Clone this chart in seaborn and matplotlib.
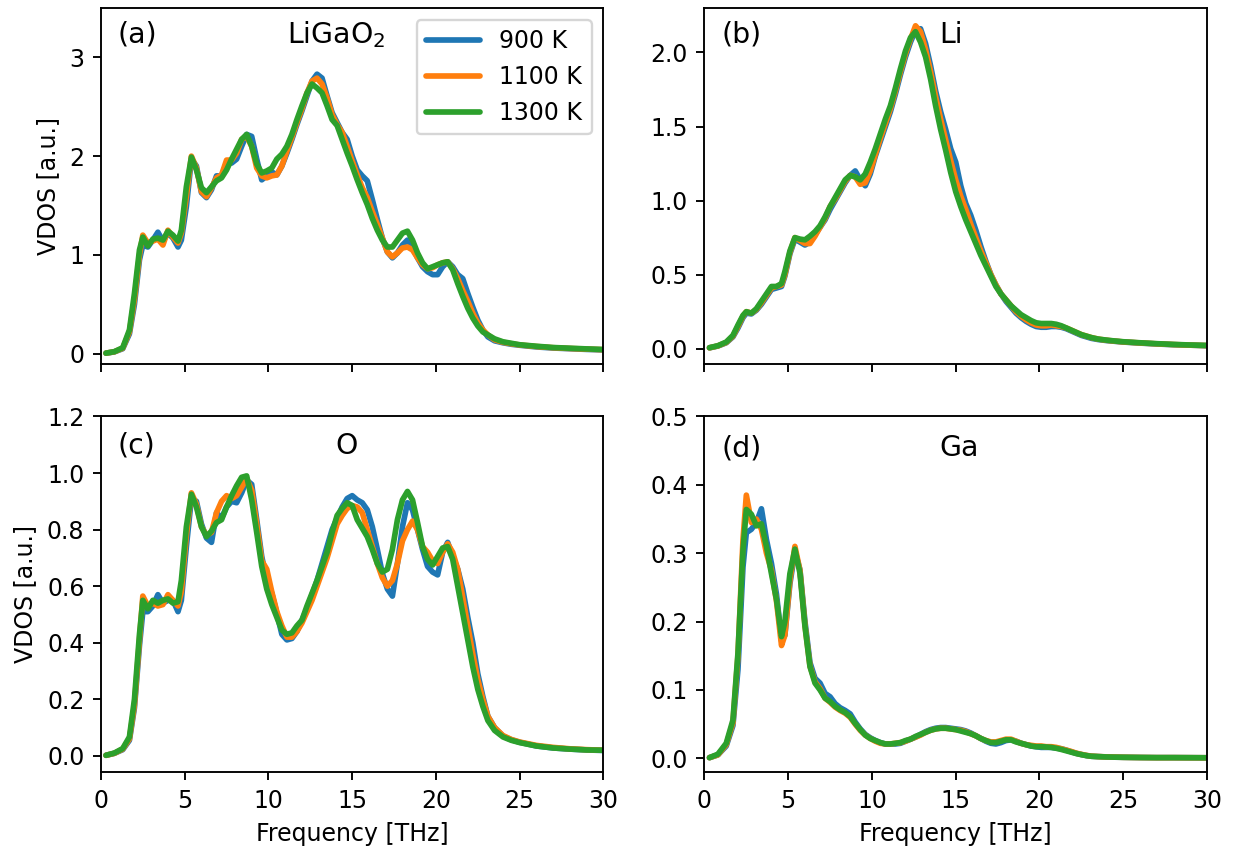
import numpy as np
import pandas as pd
import matplotlib
matplotlib.use("Agg")
import matplotlib.pyplot as plt
import seaborn as sns

# Frequency grid (THz)
FREQ = [0.3, 0.8, 1.3, 1.7, 2.0, 2.3, 2.5, 2.8, 3.1, 3.4, 3.7, 4.0, 4.3, 4.6, 4.8,
        5.1, 5.4, 5.7, 6.0, 6.3, 6.6, 6.9, 7.2, 7.5, 7.8,
        8.1, 8.4, 8.7, 9.0, 9.3, 9.6, 9.9, 10.2, 10.5, 10.8,
        11.1, 11.4, 11.7, 12.0, 12.3, 12.6, 12.9, 13.2, 13.5, 13.8,
        14.1, 14.4, 14.7, 15.0, 15.3, 15.6, 15.9, 16.2, 16.5, 16.8,
        17.1, 17.4, 17.7, 18.0, 18.3, 18.6, 18.9, 19.2, 19.5, 19.8,
        20.1, 20.4, 20.7, 21.0, 21.3, 21.6, 21.9, 22.2, 22.5, 22.8,
        23.1,
        23.5, 24.0, 24.5, 25.0, 26.0, 27.0, 28.0, 29.0, 30.0]

TEMPS = ["900 K", "1100 K", "1300 K"]
COLORS = ["#1f77b4", "#ff7f0e", "#2ca02c"]

# ---- total LiGaO2 ----
TOTAL_900 = [0.005, 0.018, 0.05, 0.20, 0.50, 0.95, 1.10, 1.08, 1.15, 1.23, 1.14, 1.22, 1.17, 1.08, 1.15,
             1.49, 1.97, 1.90, 1.63, 1.58, 1.66, 1.80, 1.80, 1.93, 1.93,
             1.97, 2.10, 2.22, 2.20, 1.97, 1.76, 1.80, 1.84, 1.81, 1.90,
             2.03, 2.17, 2.32, 2.46, 2.61, 2.76, 2.83, 2.79, 2.61, 2.44,
             2.34, 2.24, 2.17, 2.00, 1.86, 1.80, 1.75, 1.56, 1.36, 1.17,
             1.03, 0.97, 1.02, 1.10, 1.15, 1.08, 0.97, 0.88, 0.83, 0.80,
             0.80, 0.88, 0.93, 0.88, 0.80, 0.76, 0.61, 0.47, 0.34, 0.24,
             0.17,
             0.13, 0.11, 0.095, 0.085, 0.068, 0.057, 0.05, 0.043, 0.038]
TOTAL_1100 = [0.005, 0.019, 0.055, 0.22, 0.55, 1.00, 1.20, 1.12, 1.14, 1.16, 1.10, 1.25, 1.18, 1.12, 1.22,
              1.59, 2.00, 1.88, 1.64, 1.59, 1.68, 1.78, 1.81, 1.96, 1.96,
              2.03, 2.17, 2.20, 2.10, 1.88, 1.80, 1.78, 1.80, 1.81, 1.90,
              2.05, 2.19, 2.34, 2.48, 2.64, 2.76, 2.79, 2.73, 2.59, 2.42,
              2.32, 2.24, 2.10, 1.95, 1.81, 1.68, 1.58, 1.44, 1.31, 1.17,
              1.03, 0.98, 1.02, 1.07, 1.08, 1.05, 0.97, 0.90, 0.86, 0.87,
              0.90, 0.92, 0.93, 0.86, 0.76, 0.64, 0.53, 0.41, 0.31, 0.24,
              0.19,
              0.14, 0.115, 0.10, 0.088, 0.072, 0.06, 0.052, 0.046, 0.04]
TOTAL_1300 = [0.005, 0.02, 0.06, 0.24, 0.61, 1.05, 1.18, 1.09, 1.16, 1.17, 1.15, 1.24, 1.20, 1.14, 1.25,
              1.69, 1.99, 1.86, 1.68, 1.63, 1.69, 1.75, 1.78, 1.86, 1.97,
              2.07, 2.17, 2.22, 2.10, 1.92, 1.83, 1.85, 1.88, 1.97, 2.02,
              2.10, 2.22, 2.37, 2.51, 2.64, 2.73, 2.69, 2.64, 2.51, 2.37,
              2.31, 2.17, 2.03, 1.90, 1.76, 1.63, 1.51, 1.37, 1.25, 1.15,
              1.08, 1.08, 1.15, 1.22, 1.24, 1.15, 1.02, 0.92, 0.86, 0.88,
              0.90, 0.92, 0.93, 0.85, 0.71, 0.58, 0.46, 0.36, 0.28, 0.22,
              0.19,
              0.15, 0.12, 0.105, 0.09, 0.075, 0.062, 0.055, 0.048, 0.042]

# ---- Li partial ----
LI_900 = [0.006, 0.018, 0.04, 0.08, 0.14, 0.21, 0.24, 0.235, 0.26, 0.30, 0.35, 0.40, 0.41, 0.42, 0.49,
          0.64, 0.74, 0.72, 0.70, 0.72, 0.77, 0.82, 0.87, 0.94, 1.00,
          1.06, 1.12, 1.17, 1.20, 1.14, 1.10, 1.18, 1.30, 1.40, 1.50,
          1.60, 1.72, 1.85, 1.97, 2.07, 2.15, 2.16, 2.06, 1.91, 1.74,
          1.60, 1.48, 1.35, 1.26, 1.10, 0.98, 0.90, 0.80, 0.69, 0.59,
          0.50, 0.43, 0.37, 0.32, 0.28, 0.24, 0.21, 0.185, 0.165, 0.15,
          0.145, 0.145, 0.15, 0.15, 0.145, 0.135, 0.12, 0.105, 0.09, 0.08,
          0.07,
          0.062, 0.055, 0.05, 0.045, 0.038, 0.032, 0.027, 0.024, 0.02]
LI_1100 = [0.006, 0.019, 0.042, 0.085, 0.15, 0.22, 0.25, 0.24, 0.265, 0.31, 0.36, 0.41, 0.42, 0.43, 0.50,
           0.65, 0.75, 0.73, 0.71, 0.71, 0.76, 0.82, 0.88, 0.96, 1.01,
           1.07, 1.13, 1.17, 1.16, 1.11, 1.12, 1.20, 1.31, 1.42, 1.52,
           1.62, 1.74, 1.87, 1.99, 2.09, 2.18, 2.14, 2.02, 1.87, 1.70,
           1.55, 1.41, 1.27, 1.14, 1.03, 0.94, 0.84, 0.75, 0.66, 0.58,
           0.50, 0.43, 0.37, 0.33, 0.29, 0.25, 0.22, 0.195, 0.175, 0.16,
           0.155, 0.155, 0.16, 0.155, 0.15, 0.14, 0.125, 0.11, 0.095, 0.085,
           0.075,
           0.065, 0.057, 0.051, 0.046, 0.039, 0.033, 0.028, 0.024, 0.021]
LI_1300 = [0.007, 0.02, 0.045, 0.09, 0.16, 0.225, 0.25, 0.24, 0.27, 0.32, 0.37, 0.42, 0.42, 0.44, 0.52,
           0.66, 0.75, 0.74, 0.735, 0.76, 0.79, 0.83, 0.89, 0.96, 1.02,
           1.08, 1.14, 1.17, 1.16, 1.14, 1.18, 1.26, 1.35, 1.45, 1.55,
           1.64, 1.76, 1.89, 2.01, 2.10, 2.14, 2.07, 1.97, 1.82, 1.64,
           1.48, 1.34, 1.19, 1.06, 0.96, 0.87, 0.79, 0.71, 0.63, 0.56,
           0.49, 0.42, 0.37, 0.33, 0.29, 0.26, 0.23, 0.21, 0.19, 0.175,
           0.17, 0.17, 0.17, 0.165, 0.155, 0.14, 0.125, 0.11, 0.095, 0.085,
           0.075,
           0.065, 0.058, 0.052, 0.047, 0.04, 0.034, 0.029, 0.025, 0.022]

# ---- O partial ----
O_900 = [0.002, 0.009, 0.022, 0.055, 0.17, 0.39, 0.51, 0.51, 0.53, 0.57, 0.54, 0.55, 0.55, 0.51, 0.55,
         0.74, 0.91, 0.90, 0.82, 0.77, 0.755, 0.86, 0.84, 0.88, 0.90,
         0.895, 0.93, 0.975, 0.96, 0.835, 0.705, 0.62, 0.575, 0.505, 0.43,
         0.41, 0.415, 0.44, 0.48, 0.52, 0.57, 0.62, 0.68, 0.74, 0.80,
         0.84, 0.88, 0.91, 0.92, 0.905, 0.895, 0.87, 0.81, 0.73, 0.645,
         0.59, 0.565, 0.68, 0.81, 0.895, 0.87, 0.80, 0.73, 0.67, 0.65,
         0.64, 0.72, 0.755, 0.705, 0.66, 0.59, 0.49, 0.40, 0.29, 0.21,
         0.14,
         0.10, 0.07, 0.057, 0.048, 0.035, 0.028, 0.024, 0.021, 0.019]
O_1100 = [0.002, 0.009, 0.024, 0.06, 0.18, 0.41, 0.565, 0.53, 0.54, 0.53, 0.535, 0.57, 0.55, 0.53, 0.58,
          0.78, 0.93, 0.89, 0.81, 0.78, 0.79, 0.86, 0.90, 0.92, 0.91,
          0.92, 0.95, 0.98, 0.94, 0.82, 0.69, 0.66, 0.58, 0.51, 0.46,
          0.42, 0.42, 0.44, 0.47, 0.51, 0.55, 0.60, 0.65, 0.70, 0.76,
          0.82, 0.85, 0.875, 0.885, 0.88, 0.86, 0.80, 0.74, 0.68, 0.63,
          0.60, 0.62, 0.68, 0.76, 0.80, 0.83, 0.80, 0.74, 0.72, 0.69,
          0.68, 0.72, 0.75, 0.72, 0.66, 0.56, 0.46, 0.36, 0.27, 0.20,
          0.14,
          0.10, 0.072, 0.058, 0.049, 0.037, 0.03, 0.025, 0.022, 0.02]
O_1300 = [0.002, 0.01, 0.026, 0.067, 0.20, 0.43, 0.55, 0.52, 0.55, 0.54, 0.55, 0.555, 0.54, 0.545, 0.62,
          0.81, 0.925, 0.88, 0.81, 0.775, 0.795, 0.825, 0.835, 0.88, 0.92,
          0.955, 0.985, 0.99, 0.905, 0.79, 0.67, 0.59, 0.535, 0.49, 0.445,
          0.43, 0.435, 0.46, 0.48, 0.53, 0.575, 0.62, 0.67, 0.72, 0.79,
          0.85, 0.875, 0.895, 0.885, 0.835, 0.805, 0.775, 0.73, 0.68, 0.65,
          0.66, 0.73, 0.835, 0.905, 0.935, 0.905, 0.825, 0.74, 0.695, 0.675,
          0.705, 0.735, 0.74, 0.695, 0.60, 0.505, 0.41, 0.315, 0.235, 0.175,
          0.125,
          0.09, 0.067, 0.055, 0.047, 0.035, 0.028, 0.024, 0.021, 0.02]

# ---- Ga partial ----
GA_900 = [0.001, 0.005, 0.018, 0.048, 0.13, 0.28, 0.33, 0.335, 0.345, 0.365, 0.32, 0.285, 0.24, 0.172, 0.18,
          0.255, 0.303, 0.276, 0.20, 0.14, 0.117, 0.11, 0.095, 0.09, 0.08,
          0.074, 0.07, 0.065, 0.053, 0.043, 0.035, 0.03, 0.026, 0.023, 0.021,
          0.021, 0.021, 0.022, 0.025, 0.028, 0.031, 0.035, 0.039, 0.042, 0.044,
          0.045, 0.045, 0.044, 0.043, 0.042, 0.04, 0.037, 0.033, 0.029, 0.025,
          0.022, 0.021, 0.023, 0.026, 0.027, 0.025, 0.022, 0.020, 0.018, 0.017,
          0.016, 0.016, 0.016, 0.015, 0.014, 0.012, 0.0095, 0.0072, 0.0055, 0.004,
          0.003,
          0.0025, 0.002, 0.0017, 0.0015, 0.0012, 0.001, 0.001, 0.0009, 0.0008]
GA_1100 = [0.001, 0.005, 0.02, 0.052, 0.15, 0.32, 0.385, 0.345, 0.35, 0.335, 0.30, 0.275, 0.23, 0.165, 0.18,
           0.26, 0.31, 0.275, 0.195, 0.135, 0.112, 0.102, 0.088, 0.082, 0.075,
           0.07, 0.066, 0.06, 0.05, 0.041, 0.034, 0.029, 0.025, 0.022, 0.021,
           0.021, 0.022, 0.023, 0.025, 0.028, 0.031, 0.034, 0.038, 0.041, 0.043,
           0.044, 0.044, 0.043, 0.042, 0.041, 0.039, 0.036, 0.033, 0.029, 0.026,
           0.024, 0.024, 0.026, 0.028, 0.028, 0.025, 0.022, 0.02, 0.019, 0.018,
           0.018, 0.017, 0.017, 0.016, 0.014, 0.012, 0.01, 0.0075, 0.0058, 0.0043,
           0.0032,
           0.0026, 0.0021, 0.0018, 0.0015, 0.0012, 0.001, 0.001, 0.0009, 0.0008]
GA_1300 = [0.001, 0.006, 0.022, 0.056, 0.154, 0.305, 0.364, 0.357, 0.34, 0.343, 0.31, 0.27, 0.232, 0.178, 0.20,
           0.27, 0.306, 0.271, 0.193, 0.134, 0.11, 0.10, 0.088, 0.083, 0.076,
           0.071, 0.067, 0.061, 0.051, 0.042, 0.034, 0.029, 0.026, 0.023, 0.021,
           0.021, 0.022, 0.023, 0.026, 0.028, 0.032, 0.035, 0.038, 0.041, 0.043,
           0.044, 0.044, 0.043, 0.042, 0.040, 0.038, 0.036, 0.033, 0.029, 0.026,
           0.023, 0.023, 0.025, 0.027, 0.027, 0.024, 0.022, 0.020, 0.018, 0.017,
           0.017, 0.0166, 0.016, 0.0147, 0.013, 0.011, 0.009, 0.007, 0.0054, 0.004,
           0.003,
           0.0025, 0.002, 0.0017, 0.0015, 0.0012, 0.001, 0.001, 0.0009, 0.0008]

PANEL_TAGS = ["(a)", "(b)", "(c)", "(d)"]
PANEL_NAMES = ["LiGaO$_2$", "Li", "O", "Ga"]
PANEL_SERIES = [
    [TOTAL_900, TOTAL_1100, TOTAL_1300],
    [LI_900, LI_1100, LI_1300],
    [O_900, O_1100, O_1300],
    [GA_900, GA_1100, GA_1300],
]
PANEL_YLIM = [(-0.1, 3.5), (-0.1, 2.3), (-0.057, 1.2), (-0.02, 0.5)]
PANEL_YTICKS = [[0, 1, 2, 3],
                [0.0, 0.5, 1.0, 1.5, 2.0],
                [0.0, 0.2, 0.4, 0.6, 0.8, 1.0, 1.2],
                [0.0, 0.1, 0.2, 0.3, 0.4, 0.5]]
NAME_X = [11.1, 14.0, 14.0, 14.0]   # frequency where the species label starts
TEXT_Y = [0.925, 0.925, 0.918, 0.91]  # axes fraction for the panel texts

DPI = 170
fig, axes = plt.subplots(2, 2, figsize=(1234 / DPI, 852 / DPI), dpi=DPI)
fig.subplots_adjust(left=0.0818, right=0.9781, bottom=0.0939, top=0.9906,
                    wspace=0.201, hspace=0.149)

for i, ax in enumerate(axes.flat):
    frames = []
    for temp, vals in zip(TEMPS, PANEL_SERIES[i]):
        frames.append(pd.DataFrame({"freq": FREQ, "vdos": vals, "T": temp}))
    df = pd.concat(frames, ignore_index=True)
    sns.lineplot(data=df, x="freq", y="vdos", hue="T", hue_order=TEMPS,
                 palette=COLORS, linewidth=2.4, estimator=None, sort=False,
                 legend=False, ax=ax, solid_joinstyle="round",
                 solid_capstyle="round")
    ax.set_xlim(0, 30)
    ax.set_xticks([0, 5, 10, 15, 20, 25, 30])
    ax.set_ylim(*PANEL_YLIM[i])
    ax.set_yticks(PANEL_YTICKS[i])
    ax.set_xlabel("")
    ax.set_ylabel("")
    ax.text(1.0 / 30, TEXT_Y[i], PANEL_TAGS[i], transform=ax.transAxes,
            fontsize=12, ha="left", va="center")
    ax.text(NAME_X[i] / 30, TEXT_Y[i], PANEL_NAMES[i], transform=ax.transAxes,
            fontsize=12, ha="left", va="center")
    if i < 2:
        ax.tick_params(axis="x", labelbottom=False)
    else:
        ax.set_xlabel("Frequency [THz]")
    if i % 2 == 0:
        ax.set_ylabel("VDOS [a.u.]")

ax0 = axes[0, 0]
ax0.legend(ax0.lines[:3], TEMPS, loc="upper right", handlelength=2.3)

fig.savefig("out.png", dpi=DPI)
